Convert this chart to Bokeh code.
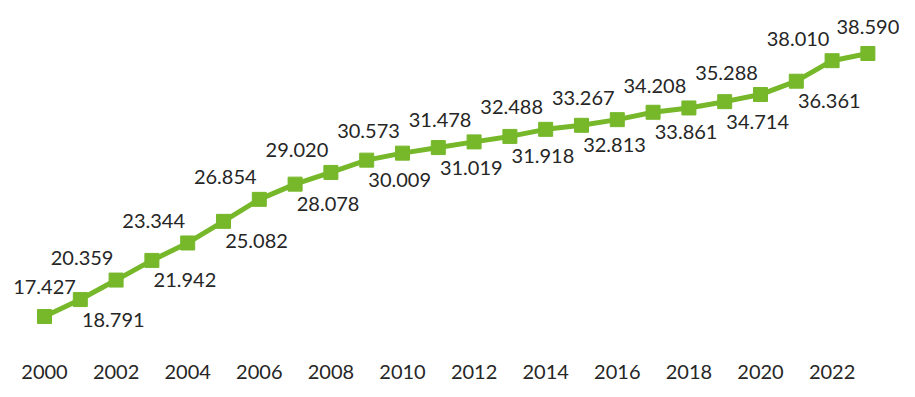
from bokeh.plotting import figure
from bokeh.models import Range1d, ColumnDataSource, FixedTicker, LabelSet
from bokeh.core.properties import value
from bokeh.embed import file_html
from bokeh.resources import INLINE

years = list(range(2000, 2024))
values = [17.427, 18.791, 20.359, 21.942, 23.344, 25.082, 26.854, 28.078, 29.020,
          30.009, 30.573, 31.019, 31.478, 31.918, 32.488, 32.813, 33.267, 33.861,
          34.208, 34.714, 35.288, 36.361, 38.010, 38.590]
tick_years = list(range(2000, 2023, 2))

GREEN = "#76b82a"
TEXT = "#262626"
FONT = "Lato"

p = figure(width=899, height=389, output_backend="svg", toolbar_location=None,
           x_range=Range1d(1998.771, 2023.883), y_range=Range1d(14.692, 42.854),
           min_border_left=0, min_border_right=0, min_border_top=0, min_border_bottom=39)
p.outline_line_color = None
p.xgrid.visible = False
p.ygrid.visible = False
p.yaxis.visible = False

p.line(years, values, line_color=GREEN, line_width=5)
p.scatter(years, values, marker="square", size=14, fill_color=GREEN, line_color=GREEN)

labels = [f"{v:.3f}" for v in values]
n = len(years)
first = ColumnDataSource(dict(x=[years[0]], y=[values[0]], t=[labels[0]]))
last = ColumnDataSource(dict(x=[years[-1]], y=[values[-1]], t=[labels[-1]]))
above = ColumnDataSource(dict(x=[years[i] for i in range(2, n - 1, 2)],
                              y=[values[i] for i in range(2, n - 1, 2)],
                              t=[labels[i] for i in range(2, n - 1, 2)]))
below = ColumnDataSource(dict(x=[years[i] for i in range(1, n - 1, 2)],
                              y=[values[i] for i in range(1, n - 1, 2)],
                              t=[labels[i] for i in range(1, n - 1, 2)]))

common = dict(text_font=value(FONT), text_font_size=value("20px"), text_color=value(TEXT),
              text_align="center", text_baseline="middle")
p.add_layout(LabelSet(x="x", y="y", text="t", source=first, y_offset=30, **common))
p.add_layout(LabelSet(x="x", y="y", text="t", source=last, y_offset=26, **common))
p.add_layout(LabelSet(x="x", y="y", text="t", source=above, x_offset=-34, y_offset=22, **common))
p.add_layout(LabelSet(x="x", y="y", text="t", source=below, x_offset=33, y_offset=-20, **common))

ax = p.xaxis[0]
ax.ticker = FixedTicker(ticks=tick_years)
ax.axis_line_color = None
ax.major_tick_line_color = None
ax.minor_tick_line_color = None
ax.major_tick_out = 0
ax.major_tick_in = 0
ax.major_label_standoff = 14
ax.major_label_text_font = FONT
ax.major_label_text_font_size = "20px"
ax.major_label_text_color = TEXT

open("out.html", "w").write(file_html(p, INLINE))
